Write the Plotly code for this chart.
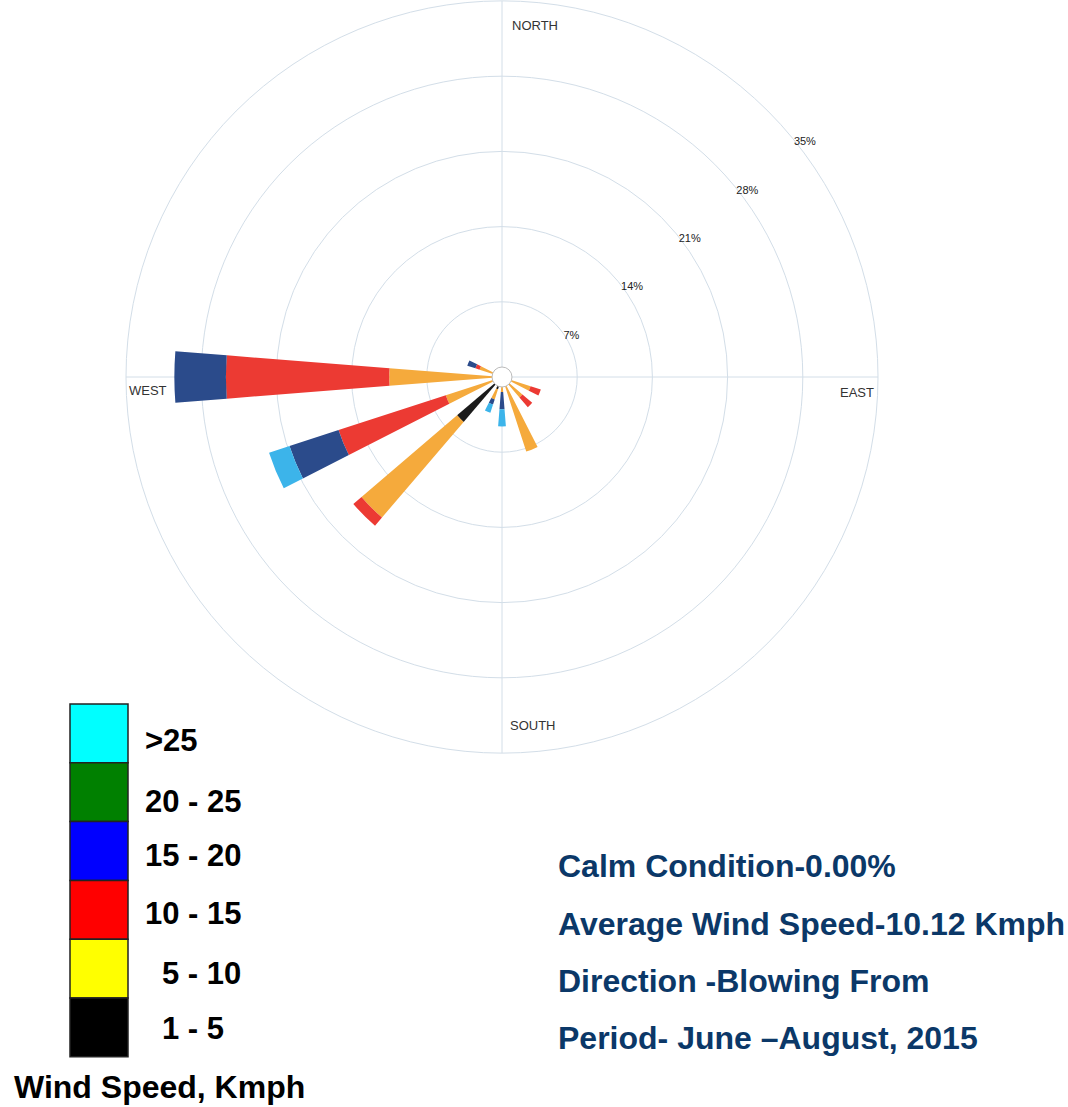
import plotly.graph_objects as go

# ---- data (percent frequency per direction, stacked by speed class) ----
directions = ["N", "NNE", "NE", "ENE", "E", "ESE", "SE", "SSE",
              "S", "SSW", "SW", "WSW", "W", "WNW", "NW", "NNW"]
speed_1_5   = [0, 0, 0, 0, 0, 0.0, 0.3, 0.5, 0.8, 1.2, 5.5, 0.3, 0.3, 0.5, 0, 0]
speed_5_10  = [0, 0, 0, 0, 0, 2.8, 2.2, 6.8, 0.6, 1.0, 11.7, 5.2, 10.2, 1.7, 0, 0]
speed_10_15 = [0, 0, 0, 0, 0, 1.0, 1.2, 0.0, 0.0, 0.0, 1.0, 10.5, 15.2, 0.4, 0, 0]
speed_15_20 = [0, 0, 0, 0, 0, 0.0, 0.0, 0.0, 1.6, 0.5, 0.0, 4.8, 4.8, 0.8, 0, 0]
speed_20_25 = [0, 0, 0, 0, 0, 0.0, 0.0, 0.0, 1.6, 0.8, 0.0, 2.0, 0.0, 0.0, 0, 0]

radial_ticks = [7, 14, 21, 28, 35]
radial_tick_text = ["7%", "14%", "21%", "28%", "35%"]
compass_labels = ["NORTH", "EAST", "SOUTH", "WEST"]

legend_labels = [">25", "20 - 25", "15 - 20", "10 - 15", "5 - 10", "1 - 5"]
legend_colors = ["#00ffff", "#008000", "#0000ff", "#ff0000", "#ffff00", "#000000"]

info_lines = ["Calm Condition-0.00%", "Average Wind Speed-10.12 Kmph",
              "Direction -Blowing From", "Period- June \u2013August, 2015"]

# ---- figure ----
W, H = 1068, 1107
theta_deg = [i * 22.5 for i in range(len(directions))]

series = [
    ("1 - 5", speed_1_5, "#1b1b1b"),
    ("5 - 10", speed_5_10, "#f5aa3c"),
    ("10 - 15", speed_10_15, "#ec3a33"),
    ("15 - 20", speed_15_20, "#2b4b8b"),
    ("20 - 25", speed_20_25, "#3cb4ea"),
]

fig = go.Figure()
for name, vals, col in series:
    fig.add_trace(go.Barpolar(
        r=vals, theta=theta_deg, width=[9] * len(directions), name=name,
        marker=dict(color=col, line=dict(width=0)), showlegend=False,
    ))

cx, cy, R = 502, 377, 376
grid_col = "#d3dee8"
fig.update_layout(
    width=W, height=H,
    margin=dict(l=0, r=0, t=0, b=0),
    paper_bgcolor="white",
    barmode="stack",
    polar=dict(
        domain=dict(x=[(cx - R) / W, (cx + R) / W],
                    y=[1 - (cy + R) / H, 1 - (cy - R) / H]),
        bgcolor="white",
        radialaxis=dict(range=[0, 35], tickvals=radial_ticks, ticktext=radial_tick_text,
                        angle=40, tickangle=40, side="clockwise", showline=False, ticks="",
                        gridcolor=grid_col, gridwidth=1,
                        tickfont=dict(family="Liberation Sans", size=11, color="#222")),
        angularaxis=dict(rotation=90, direction="clockwise",
                         tickvals=[0, 90, 180, 270], showticklabels=False, ticks="",
                         gridcolor=grid_col, linecolor=grid_col, linewidth=1),
    ),
)

# central calm circle
fig.add_shape(type="circle", xref="paper", yref="paper",
              x0=(cx - 10) / W, x1=(cx + 10) / W,
              y0=1 - (cy + 10) / H, y1=1 - (cy - 10) / H,
              fillcolor="white", line=dict(color="#bbbbbb", width=1), layer="above")

# compass labels inside the rim
compass_pos = [(535, 25), (857, 392), (533, 725), (148, 391)]
for txt, (x, y) in zip(compass_labels, compass_pos):
    fig.add_annotation(x=x / W, y=1 - y / H, xref="paper", yref="paper", text=txt,
                       showarrow=False, xanchor="center", yanchor="middle",
                       font=dict(family="Liberation Sans", size=13, color="#333"))

# legend: colour blocks
top, bh = 704, 58.8
for i, col in enumerate(legend_colors):
    fig.add_shape(type="rect", xref="paper", yref="paper",
                  x0=70 / W, x1=128 / W,
                  y0=1 - (top + (i + 1) * bh) / H, y1=1 - (top + i * bh) / H,
                  fillcolor=col, line=dict(color="#222", width=1.5))
label_y = [740, 801, 855, 913, 973, 1028]
label_x = [143, 143, 143, 143, 160, 160]
for txt, x, y in zip(legend_labels, label_x, label_y):
    fig.add_annotation(x=x / W, y=1 - y / H, xref="paper", yref="paper", text=f"<b>{txt}</b>",
                       showarrow=False, xanchor="left", yanchor="middle",
                       font=dict(family="Liberation Sans", size=31, color="black"))
fig.add_annotation(x=159 / W, y=1 - 1087 / H, xref="paper", yref="paper",
                   text="<b>Wind Speed, Kmph</b>", showarrow=False,
                   xanchor="center", yanchor="middle",
                   font=dict(family="Liberation Sans", size=32, color="black"))

# info text
for txt, y in zip(info_lines, [866, 924, 981, 1038]):
    fig.add_annotation(x=556 / W, y=1 - y / H, xref="paper", yref="paper", text=f"<b>{txt}</b>",
                       showarrow=False, xanchor="left", yanchor="middle",
                       font=dict(family="Liberation Sans", size=32, color="#0b3868"))

fig.write_html("out.html", config={"displayModeBar": False},
               post_script="document.body.style.margin='0px';")
